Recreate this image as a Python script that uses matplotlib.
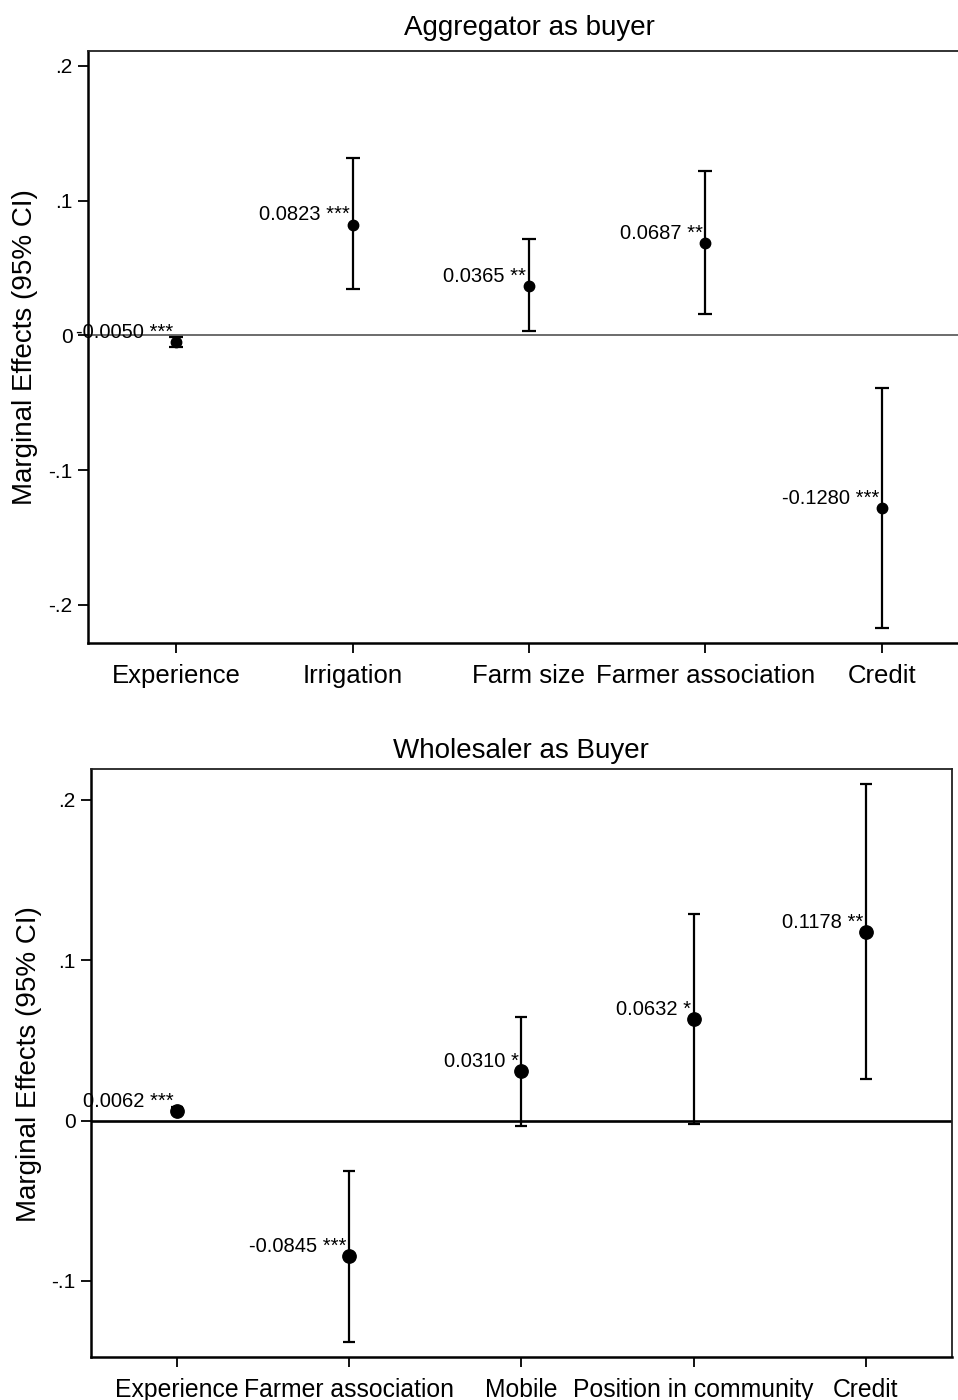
import matplotlib
matplotlib.use("Agg")
import matplotlib.pyplot as plt
from matplotlib.ticker import FixedLocator, FixedFormatter

plt.rcParams['font.family'] = ['Liberation Sans', 'DejaVu Sans']

# ---- Data: Aggregator as buyer ----
agg_categories = ["Experience", "Irrigation", "Farm size", "Farmer association", "Credit"]
agg_effects = [-0.0050, 0.0823, 0.0365, 0.0687, -0.1280]
agg_ci_low = [-0.0085, 0.0342, 0.0030, 0.0163, -0.2168]
agg_ci_high = [-0.0015, 0.1314, 0.0713, 0.1218, -0.0393]
agg_stars = ["***", "***", "**", "**", "***"]

# ---- Data: Wholesaler as buyer ----
whl_categories = ["Experience", "Farmer association", "Mobile", "Position in community", "Credit"]
whl_effects = [0.0062, -0.0845, 0.0310, 0.0632, 0.1178]
whl_ci_low = [0.0040, -0.1379, -0.0031, -0.0023, 0.0258]
whl_ci_high = [0.0084, -0.0314, 0.0649, 0.1288, 0.2099]
whl_stars = ["***", "***", "*", "*", "**"]

ytick_vals_top = [-0.2, -0.1, 0.0, 0.1, 0.2]
ytick_labels_top = ["-.2", "-.1", "0", ".1", ".2"]
ytick_vals_bot = [-0.1, 0.0, 0.1, 0.2]
ytick_labels_bot = ["-.1", "0", ".1", ".2"]

W, H = 958, 1400
fig = plt.figure(figsize=(W / 100, H / 100), dpi=100)


def px_axes(left, top, right, bottom):
    return fig.add_axes([left / W, 1 - bottom / H, (right - left) / W, (bottom - top) / H])


def draw(ax, cats, eff, lo, hi, stars, yticks, ylabels, ylim, xlim, title, title_pad,
         ms, cap, zcol, zlw, xls):
    xs = list(range(1, len(cats) + 1))
    ax.axhline(0, color=zcol, lw=zlw, zorder=1)
    yerr = [[e - l for e, l in zip(eff, lo)], [h - e for e, h in zip(eff, hi)]]
    ax.errorbar(xs, eff, yerr=yerr, fmt='o', color='black', ms=ms, capsize=cap,
                capthick=1.6, elinewidth=1.6, zorder=3)
    for x, e, s in zip(xs, eff, stars):
        ax.annotate(f"{e:.4f} {s}", (x, e), xytext=(-2, 3), textcoords='offset points',
                    ha='right', va='baseline', fontsize=14.5, zorder=4)
    ax.set_xlim(*xlim)
    ax.set_ylim(*ylim)
    ax.xaxis.set_major_locator(FixedLocator(xs))
    ax.xaxis.set_major_formatter(FixedFormatter(cats))
    ax.yaxis.set_major_locator(FixedLocator(yticks))
    ax.yaxis.set_major_formatter(FixedFormatter(ylabels))
    ax.tick_params(axis='x', labelsize=xls, length=7, width=1.3, pad=8)
    ax.tick_params(axis='y', labelsize=15, length=7, width=1.3, pad=4)
    ax.set_title(title, fontsize=20, pad=title_pad)
    for s in ['left', 'bottom']:
        ax.spines[s].set_linewidth(1.8)
    for s in ['top', 'right']:
        ax.spines[s].set_linewidth(1.3)
        ax.spines[s].set_color('#222222')


ax1 = px_axes(88, 51, 970, 643)
draw(ax1, agg_categories, agg_effects, agg_ci_low, agg_ci_high, agg_stars,
     ytick_vals_top, ytick_labels_top, (-0.2282, 0.2111), (0.5, 5.5),
     "Aggregator as buyer", 11.5, 7.5, 4.7, '#606060', 1.3, 18.5)
fig.text(25 / W, 1 - 347 / H, "Marginal Effects (95% CI)", rotation=90,
         ha='center', va='center', fontsize=20)

ax2 = px_axes(90.7, 769, 952, 1357)
draw(ax2, whl_categories, whl_effects, whl_ci_low, whl_ci_high, whl_stars,
     ytick_vals_bot, ytick_labels_bot, (-0.1474, 0.2193), (0.5, 5.5),
     "Wholesaler as Buyer", 8, 9.6, 4.0, 'black', 1.9, 17.8)
fig.text(29 / W, 1 - 1064 / H, "Marginal Effects (95% CI)", rotation=90,
         ha='center', va='center', fontsize=20)

fig.savefig("out.png", dpi=100)
